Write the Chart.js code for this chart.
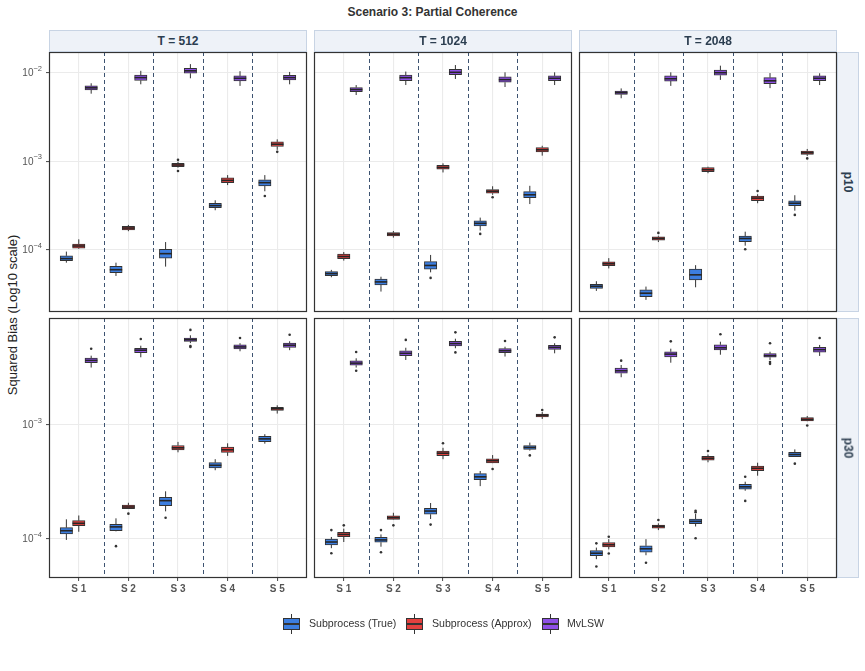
<!DOCTYPE html>
<html>
<head>
<meta charset="utf-8">
<script src="https://cdn.jsdelivr.net/npm/chart.js@4/dist/chart.umd.min.js"></script>
<style>
  body { margin: 0; width: 865px; height: 671px; position: relative; background: #fff; overflow: hidden;
         font-family: "Liberation Sans", Arial, sans-serif; }
  canvas { position: absolute; }
  .title { position: absolute; top: 5px; left: 0; width: 865px; text-align: center; font-weight: bold; font-size: 12px; color: #333; }
  .ylab { position: absolute; left: 12px; top: 315px; transform: translate(-50%, -50%) rotate(-90deg); white-space: nowrap; font-size: 13px; color: #222; }
  .strip { position: absolute; background: #eef2f8; border: 1px solid #c8d4e4; box-sizing: border-box; color: #2c3e50;
           font-weight: bold; font-size: 12px; display: flex; align-items: center; justify-content: center; }
  .strip.side span { transform: rotate(90deg); white-space: nowrap; }
  .lg-key { position: absolute; width: 17px; height: 12px; border: 1px solid #333; box-sizing: border-box; }
  .lg-key .med { position: absolute; left: 0; right: 0; top: 4px; height: 1.5px; background: #333; }
  .lg-key .wh { position: absolute; left: 7px; width: 1px; height: 4px; background: #333; }
  .lg-text { position: absolute; font-size: 10.6px; color: #333; white-space: nowrap; }
</style>
</head>
<body>
<div class="title">Scenario 3: Partial Coherence</div>
<div class="ylab">Squared Bias (Log10 scale)</div>
<div id="root"></div>
<script>
// Facets / categories
const categories = ['S 1', 'S 2', 'S 3', 'S 4', 'S 5'];
const methods = ['Subprocess (True)', 'Subprocess (Approx)', 'MvLSW'];
const methodColors = ['#3c7ee0', '#e2413f', '#8e50e6'];
const seriesLengths = ['T = 512', 'T = 1024', 'T = 2048'];
const dimensions = ['p10', 'p30'];
const decadeTicks = [1e-4, 1e-3, 1e-2];
const decadeExponents = ['\u22124', '\u22123', '\u22122'];
const yMin = [2.0e-5, 4.51e-5];
const yMax = [1.712e-2, 8.73e-3];

// box stats per category: [lower whisker, q1, median, q3, upper whisker, outliers]
// p10
const true512p10 = [
  [7.2e-5, 7.6e-5, 8.0e-5, 8.6e-5, 9.6e-5, []],
  [5.1e-5, 5.56e-5, 6.0e-5, 6.56e-5, 7.2e-5, []],
  [6.5e-5, 8.1e-5, 9.1e-5, 1.02e-4, 1.23e-4, []],
  [2.81e-4, 3.0e-4, 3.17e-4, 3.37e-4, 3.64e-4, []],
  [4.6e-4, 5.3e-4, 5.75e-4, 6.2e-4, 7.0e-4, [4.07e-4]]
];
const approx512p10 = [
  [1.03e-4, 1.05e-4, 1.11e-4, 1.17e-4, 1.32e-4, []],
  [1.63e-4, 1.69e-4, 1.77e-4, 1.85e-4, 1.92e-4, []],
  [8.5e-4, 8.7e-4, 9.1e-4, 9.5e-4, 9.9e-4, [1.04e-3, 7.8e-4]],
  [5.4e-4, 5.75e-4, 6.1e-4, 6.5e-4, 7.0e-4, []],
  [1.35e-3, 1.47e-3, 1.56e-3, 1.66e-3, 1.77e-3, [1.28e-3]]
];
const mvlsw512p10 = [
  [5.8e-3, 6.4e-3, 6.75e-3, 7.1e-3, 7.6e-3, []],
  [7.4e-3, 8.2e-3, 8.8e-3, 9.4e-3, 1.05e-2, []],
  [8.65e-3, 9.85e-3, 1.05e-2, 1.12e-2, 1.25e-2, []],
  [7.1e-3, 8.1e-3, 8.65e-3, 9.2e-3, 1.04e-2, []],
  [7.4e-3, 8.27e-3, 8.8e-3, 9.35e-3, 1.02e-2, []]
];
const true1024p10 = [
  [4.93e-5, 5.14e-5, 5.42e-5, 5.7e-5, 5.97e-5, []],
  [3.4e-5, 4.05e-5, 4.37e-5, 4.7e-5, 5.0e-5, []],
  [5.6e-5, 6.1e-5, 6.7e-5, 7.4e-5, 8.8e-5, [4.85e-5]],
  [1.66e-4, 1.87e-4, 2.0e-4, 2.13e-4, 2.32e-4, [1.52e-4]],
  [3.3e-4, 3.9e-4, 4.2e-4, 4.55e-4, 5.3e-4, []]
];
const approx1024p10 = [
  [7.6e-5, 8.0e-5, 8.45e-5, 9.0e-5, 9.5e-5, []],
  [1.38e-4, 1.44e-4, 1.51e-4, 1.57e-4, 1.64e-4, []],
  [7.5e-4, 8.15e-4, 8.55e-4, 9.0e-4, 9.5e-4, []],
  [4.2e-4, 4.37e-4, 4.6e-4, 4.8e-4, 5.24e-4, [3.94e-4]],
  [1.16e-3, 1.28e-3, 1.35e-3, 1.43e-3, 1.5e-3, []]
];
const mvlsw1024p10 = [
  [5.6e-3, 6.1e-3, 6.45e-3, 6.8e-3, 7.25e-3, []],
  [7.26e-3, 8.13e-3, 8.79e-3, 9.4e-3, 1.03e-2, []],
  [8.5e-3, 9.5e-3, 1.01e-2, 1.09e-2, 1.22e-2, []],
  [6.9e-3, 7.8e-3, 8.35e-3, 9.0e-3, 1.01e-2, []],
  [7.26e-3, 8.13e-3, 8.65e-3, 9.2e-3, 1.01e-2, []]
];
const true2048p10 = [
  [3.46e-5, 3.7e-5, 3.9e-5, 4.1e-5, 4.45e-5, []],
  [2.74e-5, 2.98e-5, 3.26e-5, 3.55e-5, 3.87e-5, []],
  [3.8e-5, 4.6e-5, 5.25e-5, 6.1e-5, 6.75e-5, []],
  [1.12e-4, 1.24e-4, 1.35e-4, 1.44e-4, 1.61e-4, [1.02e-4]],
  [2.78e-4, 3.17e-4, 3.37e-4, 3.58e-4, 4.15e-4, [2.49e-4]]
];
const approx2048p10 = [
  [6.2e-5, 6.67e-5, 7.0e-5, 7.35e-5, 8.1e-5, []],
  [1.23e-4, 1.29e-4, 1.35e-4, 1.41e-4, 1.45e-4, [1.56e-4]],
  [7.35e-4, 7.65e-4, 8.05e-4, 8.5e-4, 8.7e-4, []],
  [3.37e-4, 3.6e-4, 3.85e-4, 4.05e-4, 4.26e-4, [4.63e-4]],
  [1.15e-3, 1.2e-3, 1.25e-3, 1.31e-3, 1.38e-3, [1.08e-3]]
];
const mvlsw2048p10 = [
  [5.15e-3, 5.7e-3, 5.95e-3, 6.2e-3, 6.65e-3, []],
  [7.1e-3, 8.05e-3, 8.55e-3, 9.2e-3, 1.01e-2, []],
  [8.3e-3, 9.35e-3, 1.0e-2, 1.07e-2, 1.2e-2, []],
  [6.7e-3, 7.5e-3, 8.1e-3, 8.8e-3, 9.9e-3, []],
  [7.26e-3, 8.13e-3, 8.65e-3, 9.2e-3, 9.85e-3, []]
];
// p30
const true512p30 = [
  [9.75e-5, 1.1e-4, 1.175e-4, 1.25e-4, 1.48e-4, []],
  [1.16e-4, 1.175e-4, 1.27e-4, 1.34e-4, 1.51e-4, [8.6e-5]],
  [1.74e-4, 1.95e-4, 2.16e-4, 2.31e-4, 2.61e-4, [1.53e-4]],
  [4.0e-4, 4.2e-4, 4.42e-4, 4.66e-4, 5.0e-4, []],
  [6.85e-4, 7.13e-4, 7.55e-4, 7.95e-4, 8.3e-4, []]
];
const approx512p30 = [
  [1.15e-4, 1.3e-4, 1.365e-4, 1.44e-4, 1.6e-4, []],
  [1.83e-4, 1.84e-4, 1.9e-4, 1.97e-4, 2.07e-4, [1.66e-4]],
  [5.75e-4, 6.05e-4, 6.3e-4, 6.6e-4, 7.1e-4, []],
  [5.35e-4, 5.75e-4, 6.05e-4, 6.4e-4, 6.9e-4, []],
  [1.26e-3, 1.345e-3, 1.39e-3, 1.43e-3, 1.49e-3, []]
];
const mvlsw512p30 = [
  [3.2e-3, 3.53e-3, 3.7e-3, 3.88e-3, 4.07e-3, [4.69e-3]],
  [3.94e-3, 4.33e-3, 4.55e-3, 4.73e-3, 4.98e-3, [5.7e-3]],
  [5.25e-3, 5.44e-3, 5.62e-3, 5.82e-3, 6.15e-3, [6.86e-3, 4.95e-3, 4.85e-3]],
  [4.45e-3, 4.66e-3, 4.86e-3, 5.06e-3, 5.24e-3, [5.82e-3]],
  [4.55e-3, 4.82e-3, 5.03e-3, 5.24e-3, 5.45e-3, [6.22e-3]]
];
const true1024p30 = [
  [8.25e-5, 8.8e-5, 9.35e-5, 9.9e-5, 1.035e-4, [1.19e-4, 7.45e-5]],
  [8.5e-5, 9.3e-5, 9.75e-5, 1.03e-4, 1.09e-4, [1.19e-4, 7.6e-5]],
  [1.49e-4, 1.64e-4, 1.75e-4, 1.85e-4, 2.06e-4, [1.33e-4]],
  [2.9e-4, 3.3e-4, 3.5e-4, 3.73e-4, 3.94e-4, []],
  [5.95e-4, 6.1e-4, 6.35e-4, 6.6e-4, 7.0e-4, [5.4e-4]]
];
const approx1024p30 = [
  [9.35e-5, 1.04e-4, 1.09e-4, 1.14e-4, 1.225e-4, [1.31e-4]],
  [1.47e-4, 1.48e-4, 1.53e-4, 1.585e-4, 1.69e-4, [1.31e-4]],
  [5.0e-4, 5.37e-4, 5.65e-4, 5.9e-4, 6.3e-4, [6.9e-4]],
  [4.62e-4, 4.63e-4, 4.85e-4, 5.05e-4, 5.44e-4, [4.1e-4]],
  [1.13e-3, 1.175e-3, 1.22e-3, 1.25e-3, 1.3e-3, [1.355e-3]]
];
const mvlsw1024p30 = [
  [3.2e-3, 3.35e-3, 3.5e-3, 3.66e-3, 3.86e-3, [4.38e-3, 3.0e-3]],
  [3.73e-3, 4.07e-3, 4.27e-3, 4.5e-3, 4.78e-3, [5.6e-3]],
  [4.73e-3, 4.96e-3, 5.2e-3, 5.44e-3, 5.74e-3, [6.53e-3, 4.35e-3]],
  [4.0e-3, 4.33e-3, 4.5e-3, 4.69e-3, 4.88e-3, [5.48e-3]],
  [4.27e-3, 4.63e-3, 4.82e-3, 5.02e-3, 5.24e-3, [5.9e-3]]
];
const true2048p30 = [
  [6.6e-5, 7.1e-5, 7.45e-5, 7.85e-5, 8.35e-5, [9.1e-5, 5.7e-5]],
  [7.15e-5, 7.6e-5, 8.15e-5, 8.65e-5, 9.9e-5, [6.15e-5]],
  [1.28e-4, 1.355e-4, 1.42e-4, 1.49e-4, 1.65e-4, [1.76e-4, 1.71e-4, 1.01e-4]],
  [2.64e-4, 2.73e-4, 2.86e-4, 3.0e-4, 3.17e-4, [3.5e-4, 2.15e-4]],
  [5.25e-4, 5.26e-4, 5.5e-4, 5.75e-4, 6.1e-4, [4.57e-4]]
];
const approx2048p30 = [
  [8.05e-5, 8.45e-5, 8.85e-5, 9.25e-5, 9.9e-5, [1.04e-4, 7.4e-5]],
  [1.19e-4, 1.24e-4, 1.285e-4, 1.32e-4, 1.365e-4, [1.46e-4]],
  [4.7e-4, 4.9e-4, 5.1e-4, 5.3e-4, 5.5e-4, [5.9e-4]],
  [3.58e-4, 3.96e-4, 4.16e-4, 4.36e-4, 4.66e-4, []],
  [1.08e-3, 1.085e-3, 1.12e-3, 1.16e-3, 1.2e-3, [9.9e-4]]
];
const mvlsw2048p30 = [
  [2.63e-3, 2.85e-3, 3.0e-3, 3.17e-3, 3.37e-3, [3.68e-3]],
  [3.53e-3, 3.97e-3, 4.2e-3, 4.41e-3, 4.69e-3, [5.44e-3]],
  [4.15e-3, 4.57e-3, 4.78e-3, 5.08e-3, 5.4e-3, [6.28e-3]],
  [3.73e-3, 3.94e-3, 4.07e-3, 4.24e-3, 4.41e-3, [5.24e-3, 3.58e-3, 3.45e-3]],
  [4.05e-3, 4.38e-3, 4.6e-3, 4.82e-3, 5.06e-3, [5.82e-3]]
];

const panels = [
  [[true512p10, approx512p10, mvlsw512p10], [true1024p10, approx1024p10, mvlsw1024p10], [true2048p10, approx2048p10, mvlsw2048p10]],
  [[true512p30, approx512p30, mvlsw512p30], [true1024p30, approx1024p30, mvlsw1024p30], [true2048p30, approx2048p30, mvlsw2048p30]]
];

// Layout (px)
const PANEL_X = [49, 314, 579];
const PANEL_Y = [52, 318];
const PANEL_W = 258, PANEL_H = 260;
const AXIS_W = 44, AXIS_H = 24, PAD_T = 10, PAD_R = 12, PAD_B = 4;
const X_MIN = 0.4, X_MAX = 5.6;
const DODGE = [-0.25, 0, 0.25];
const BOX_W = 0.25 * PANEL_W / (X_MAX - X_MIN);
const FONT = '"Liberation Sans", Arial, sans-serif';

// whiskers, medians, outliers, separators, border, log tick labels
const boxParts = {
  id: 'boxParts',
  beforeDatasetsDraw(chart) {
    const { ctx, chartArea: a, scales: { x, y } } = chart;
    ctx.save();
    ctx.strokeStyle = '#3d5371';
    ctx.lineWidth = 1;
    ctx.setLineDash([4, 3]);
    for (let k = 1; k < categories.length; k++) {
      const px = Math.round(x.getPixelForValue(k + 0.5)) + 0.5;
      ctx.beginPath();
      ctx.moveTo(px, a.top);
      ctx.lineTo(px, a.bottom);
      ctx.stroke();
    }
    ctx.setLineDash([]);
    ctx.strokeStyle = '#333';
    chart.data.datasets.forEach((ds, di) => {
      const meta = chart.getDatasetMeta(di);
      ds.data.forEach((d, i) => {
        const s = d.stats;
        const px = meta.data[i].x;
        ctx.beginPath();
        ctx.moveTo(px, y.getPixelForValue(s[0]));
        ctx.lineTo(px, y.getPixelForValue(s[1]));
        ctx.moveTo(px, y.getPixelForValue(s[3]));
        ctx.lineTo(px, y.getPixelForValue(s[4]));
        ctx.stroke();
      });
    });
    ctx.restore();
  },
  afterDatasetsDraw(chart) {
    const { ctx, scales: { y } } = chart;
    ctx.save();
    chart.data.datasets.forEach((ds, di) => {
      const meta = chart.getDatasetMeta(di);
      ds.data.forEach((d, i) => {
        const s = d.stats;
        const el = meta.data[i];
        const py = y.getPixelForValue(s[2]);
        ctx.strokeStyle = '#262626';
        ctx.lineWidth = 1.6;
        ctx.beginPath();
        ctx.moveTo(el.x - el.width / 2, py);
        ctx.lineTo(el.x + el.width / 2, py);
        ctx.stroke();
        ctx.fillStyle = '#333';
        s[5].forEach(v => {
          ctx.beginPath();
          ctx.arc(el.x, y.getPixelForValue(v), 1.3, 0, Math.PI * 2);
          ctx.fill();
        });
      });
    });
    ctx.restore();
  },
  afterDraw(chart) {
    const { ctx, chartArea: a, scales: { y } } = chart;
    ctx.save();
    ctx.strokeStyle = '#333';
    ctx.lineWidth = 1.2;
    ctx.strokeRect(a.left + 0.5, a.top + 0.5, a.right - a.left - 1, a.bottom - a.top - 1);
    if (chart.options.showDecadeLabels) {
      // "10" with a raised exponent at each decade tick
      ctx.fillStyle = '#555';
      ctx.textBaseline = 'middle';
      y.ticks.forEach(t => {
        const k = decadeTicks.findIndex(v => Math.abs(v - t.value) / v < 1e-6);
        if (k < 0) return;
        const py = y.getPixelForValue(t.value);
        ctx.font = '7.5px ' + FONT;
        const ew = ctx.measureText(decadeExponents[k]).width;
        const right = a.left - 7;
        ctx.textAlign = 'right';
        ctx.fillText(decadeExponents[k], right, py - 4);
        ctx.font = '10px ' + FONT;
        ctx.fillText('10', right - ew, py + 0.5);
      });
    }
    ctx.restore();
  }
};

const root = document.getElementById('root');

function makePanel(row, col) {
  const canvas = document.createElement('canvas');
  canvas.width = AXIS_W + PANEL_W + PAD_R;
  canvas.height = PAD_T + PANEL_H + AXIS_H + PAD_B;
  canvas.style.left = (PANEL_X[col] - AXIS_W) + 'px';
  canvas.style.top = (PANEL_Y[row] - PAD_T) + 'px';
  root.appendChild(canvas);

  const showX = row === 1;
  const showY = col === 0;

  new Chart(canvas, {
    type: 'bar',
    data: {
      datasets: panels[row][col].map((stats, m) => ({
        label: methods[m],
        data: stats.map((s, i) => ({ x: i + 1 + DODGE[m], y: [s[1], s[3]], stats: s })),
        backgroundColor: methodColors[m],
        borderColor: '#333',
        borderWidth: 1,
        borderSkipped: false,
        barThickness: BOX_W,
        grouped: false
      }))
    },
    options: {
      responsive: false,
      animation: false,
      devicePixelRatio: 1,
      showDecadeLabels: showY,
      layout: { padding: { top: PAD_T, right: PAD_R, bottom: PAD_B, left: 0 } },
      plugins: { legend: { display: false }, tooltip: { enabled: false } },
      scales: {
        x: {
          type: 'linear', min: X_MIN, max: X_MAX, offset: false,
          afterBuildTicks: s => { s.ticks = categories.map((c, i) => ({ value: i + 1 })); },
          afterFit: s => { s.height = AXIS_H; },
          border: { display: false },
          grid: { offset: false, color: '#ebebeb', lineWidth: 1.1, drawTicks: showX, tickLength: 3, tickColor: '#555' },
          ticks: {
            display: showX, autoSkip: false, maxRotation: 0, padding: 2, color: '#555',
            font: { family: FONT, size: 10, weight: 'bold' },
            callback: v => categories[Math.round(v) - 1]
          }
        },
        y: {
          type: 'logarithmic', min: yMin[row], max: yMax[row], beginAtZero: false,
          afterBuildTicks: s => { s.ticks = decadeTicks.filter(v => v >= s.min && v <= s.max).map(v => ({ value: v })); },
          afterFit: s => { s.width = AXIS_W; },
          border: { display: false },
          grid: { color: '#ebebeb', lineWidth: 1.1, drawTicks: showY, tickLength: 3, tickColor: '#555' },
          ticks: { display: false }
        }
      }
    },
    plugins: [boxParts]
  });
}

for (let r = 0; r < 2; r++) for (let c = 0; c < 3; c++) makePanel(r, c);

// strips
seriesLengths.forEach((t, c) => {
  const d = document.createElement('div');
  d.className = 'strip';
  d.style.left = PANEL_X[c] + 'px';
  d.style.top = '30px';
  d.style.width = PANEL_W + 'px';
  d.style.height = '22px';
  d.textContent = t;
  root.appendChild(d);
});
dimensions.forEach((p, r) => {
  const d = document.createElement('div');
  d.className = 'strip side';
  d.style.left = (PANEL_X[2] + PANEL_W) + 'px';
  d.style.top = PANEL_Y[r] + 'px';
  d.style.width = '22px';
  d.style.height = PANEL_H + 'px';
  const sp = document.createElement('span');
  sp.textContent = p;
  d.appendChild(sp);
  root.appendChild(d);
});

// legend
const LEG_KEY_X = [283, 406, 542];
const LEG_TEXT_X = [309, 432, 567];
methods.forEach((m, i) => {
  const k = document.createElement('div');
  k.className = 'lg-key';
  k.style.left = LEG_KEY_X[i] + 'px';
  k.style.top = '618px';
  k.style.background = methodColors[i];
  k.innerHTML = '<div class="med"></div><div class="wh" style="top:-5px"></div><div class="wh" style="top:11px"></div>';
  root.appendChild(k);
  const t = document.createElement('div');
  t.className = 'lg-text';
  t.style.left = LEG_TEXT_X[i] + 'px';
  t.style.top = '617px';
  t.textContent = m;
  root.appendChild(t);
});
</script>
</body>
</html>
